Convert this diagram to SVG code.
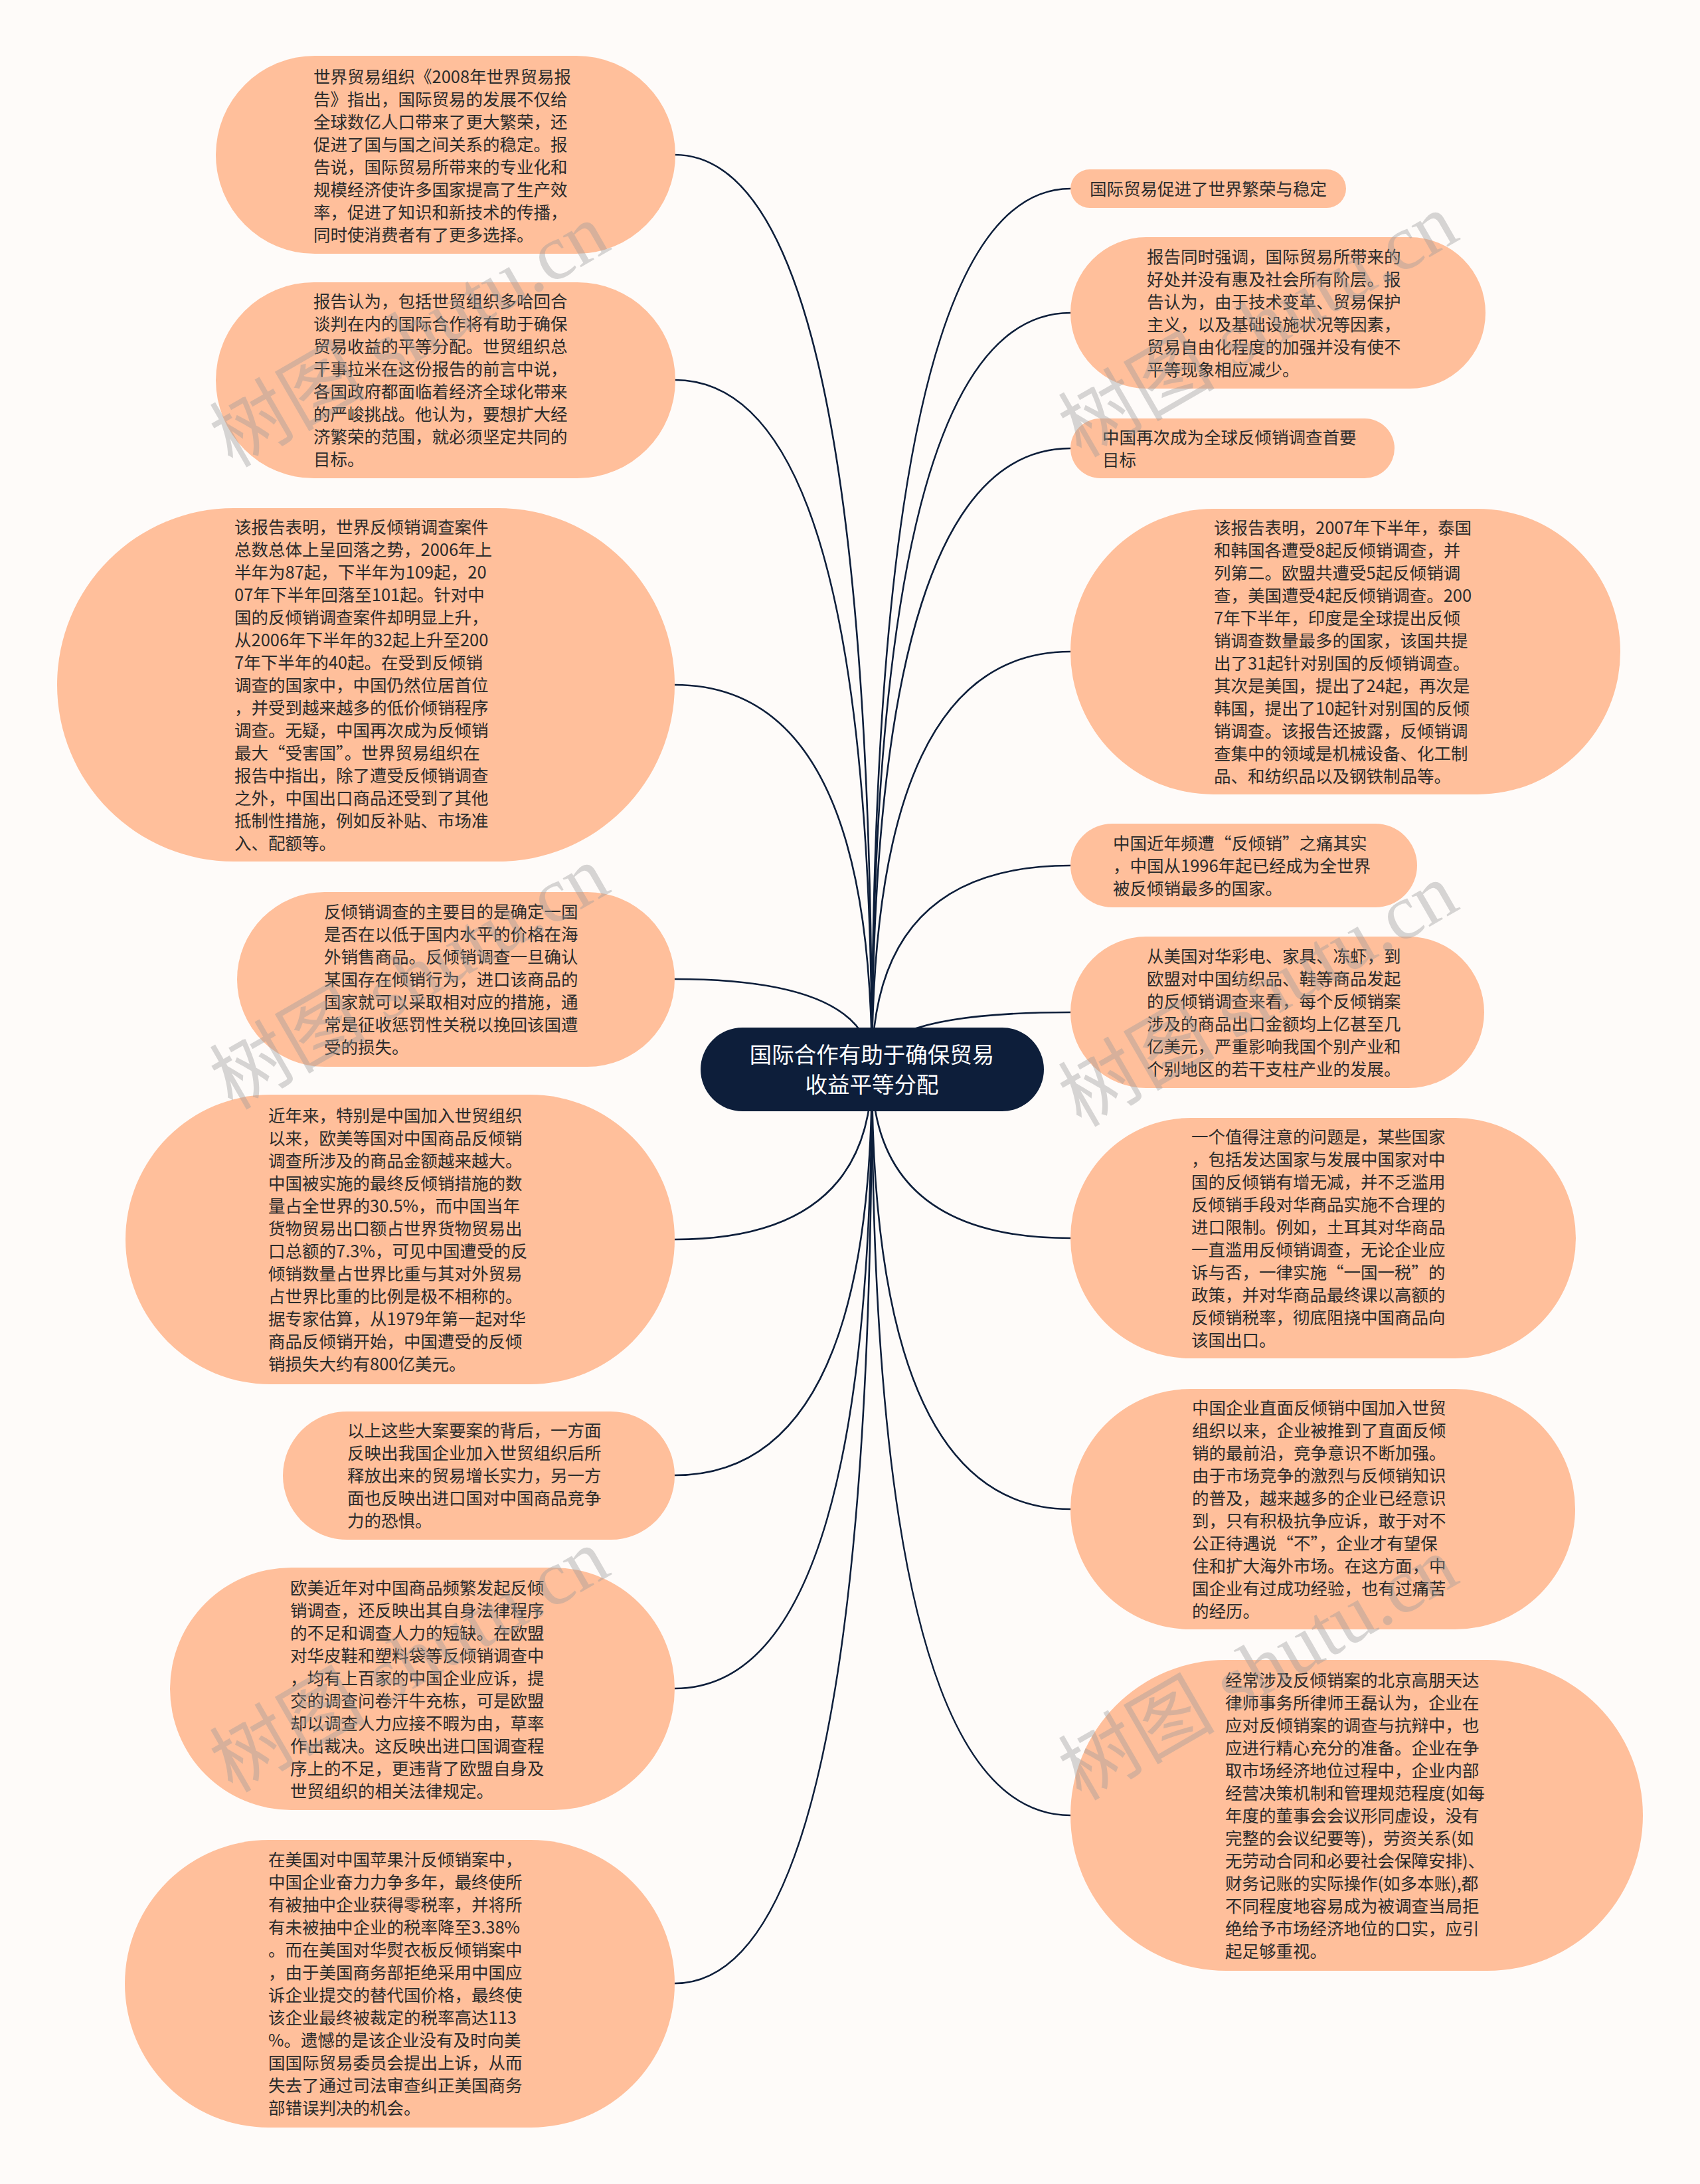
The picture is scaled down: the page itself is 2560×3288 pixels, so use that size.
<svg xmlns="http://www.w3.org/2000/svg" width="2560" height="3288" viewBox="0 0 2560 3288">
<style>
.bg{fill:#FEFBF9}
.node{fill:#FFBF9B}
.root{fill:#0D1E3A}
.t{font-family:"Noto Sans CJK SC","Noto Sans",sans-serif;font-size:25.5px;fill:#2B2B2B}
.rt{font-family:"Noto Sans CJK SC","Noto Sans",sans-serif;font-size:33.5px;fill:#FFFFFF;text-anchor:middle}
.c{fill:none;stroke:#0D1E3A;stroke-width:2.6;stroke-linecap:round}
.wm{font-family:"Liberation Serif","Noto Sans CJK SC",serif;font-size:118px;fill:#9A9A9A;fill-opacity:0.4}
</style>
<rect class="bg" x="0" y="0" width="2560" height="3288"/>
<g id="connectors">
<path class="c" d="M1313 1610 Q1313 233 1016 233"/>
<path class="c" d="M1313 1610 Q1313 572 1016 572"/>
<path class="c" d="M1313 1610 Q1313 1031 1016 1031"/>
<path class="c" d="M1313 1610 Q1313 1474 1016 1474"/>
<path class="c" d="M1313 1610 Q1313 1866 1016 1866"/>
<path class="c" d="M1313 1610 Q1313 2221 1016 2221"/>
<path class="c" d="M1313 1610 Q1313 2542 1016 2542"/>
<path class="c" d="M1313 1610 Q1313 2986 1016 2986"/>
<path class="c" d="M1313 1610 Q1313 284 1612 284"/>
<path class="c" d="M1313 1610 Q1313 471 1612 471"/>
<path class="c" d="M1313 1610 Q1313 675 1612 675"/>
<path class="c" d="M1313 1610 Q1313 981 1612 981"/>
<path class="c" d="M1313 1610 Q1313 1303 1612 1303"/>
<path class="c" d="M1313 1610 Q1313 1524 1612 1524"/>
<path class="c" d="M1313 1610 Q1313 1864 1612 1864"/>
<path class="c" d="M1313 1610 Q1313 2272 1612 2272"/>
<path class="c" d="M1313 1610 Q1313 2733 1612 2733"/>
</g>
<g id="root">
<rect class="root" x="1055" y="1547" width="517" height="126" rx="63"/>
<text class="rt"><tspan x="1313" y="1600">国际合作有助于确保贸易</tspan><tspan x="1313" y="1645">收益平等分配</tspan></text>
</g>
<g id="L1">
<rect class="node" x="325" y="84" width="692" height="298" rx="149"/>
<text class="t"><tspan x="472" y="125">世界贸易组织《2008年世界贸易报</tspan><tspan x="472" y="159">告》指出，国际贸易的发展不仅给</tspan><tspan x="472" y="193">全球数亿人口带来了更大繁荣，还</tspan><tspan x="472" y="227">促进了国与国之间关系的稳定。报</tspan><tspan x="472" y="261">告说，国际贸易所带来的专业化和</tspan><tspan x="472" y="295">规模经济使许多国家提高了生产效</tspan><tspan x="472" y="329">率，促进了知识和新技术的传播，</tspan><tspan x="472" y="363">同时使消费者有了更多选择。</tspan></text>
</g>
<g id="L2">
<rect class="node" x="325" y="425" width="692" height="295" rx="147.5"/>
<text class="t"><tspan x="472" y="463">报告认为，包括世贸组织多哈回合</tspan><tspan x="472" y="497">谈判在内的国际合作将有助于确保</tspan><tspan x="472" y="531">贸易收益的平等分配。世贸组织总</tspan><tspan x="472" y="565">干事拉米在这份报告的前言中说，</tspan><tspan x="472" y="599">各国政府都面临着经济全球化带来</tspan><tspan x="472" y="633">的严峻挑战。他认为，要想扩大经</tspan><tspan x="472" y="667">济繁荣的范围，就必须坚定共同的</tspan><tspan x="472" y="701">目标。</tspan></text>
</g>
<g id="L3">
<rect class="node" x="86" y="765" width="930" height="532" rx="266"/>
<text class="t"><tspan x="353" y="803">该报告表明，世界反倾销调查案件</tspan><tspan x="353" y="837">总数总体上呈回落之势，2006年上</tspan><tspan x="353" y="871">半年为87起，下半年为109起，20</tspan><tspan x="353" y="905">07年下半年回落至101起。针对中</tspan><tspan x="353" y="939">国的反倾销调查案件却明显上升，</tspan><tspan x="353" y="973">从2006年下半年的32起上升至200</tspan><tspan x="353" y="1007">7年下半年的40起。在受到反倾销</tspan><tspan x="353" y="1041">调查的国家中，中国仍然位居首位</tspan><tspan x="353" y="1075">，并受到越来越多的低价倾销程序</tspan><tspan x="353" y="1109">调查。无疑，中国再次成为反倾销</tspan><tspan x="353" y="1143">最大“受害国”。世界贸易组织在</tspan><tspan x="353" y="1177">报告中指出，除了遭受反倾销调查</tspan><tspan x="353" y="1211">之外，中国出口商品还受到了其他</tspan><tspan x="353" y="1245">抵制性措施，例如反补贴、市场准</tspan><tspan x="353" y="1279">入、配额等。</tspan></text>
</g>
<g id="L4">
<rect class="node" x="357" y="1343" width="659" height="263" rx="131.5"/>
<text class="t"><tspan x="488" y="1382">反倾销调查的主要目的是确定一国</tspan><tspan x="488" y="1416">是否在以低于国内水平的价格在海</tspan><tspan x="488" y="1450">外销售商品。反倾销调查一旦确认</tspan><tspan x="488" y="1484">某国存在倾销行为，进口该商品的</tspan><tspan x="488" y="1518">国家就可以采取相对应的措施，通</tspan><tspan x="488" y="1552">常是征收惩罚性关税以挽回该国遭</tspan><tspan x="488" y="1586">受的损失。</tspan></text>
</g>
<g id="L5">
<rect class="node" x="189" y="1648" width="827" height="436" rx="218"/>
<text class="t"><tspan x="404" y="1689">近年来，特别是中国加入世贸组织</tspan><tspan x="404" y="1723">以来，欧美等国对中国商品反倾销</tspan><tspan x="404" y="1757">调查所涉及的商品金额越来越大。</tspan><tspan x="404" y="1791">中国被实施的最终反倾销措施的数</tspan><tspan x="404" y="1825">量占全世界的30.5%，而中国当年</tspan><tspan x="404" y="1859">货物贸易出口额占世界货物贸易出</tspan><tspan x="404" y="1893">口总额的7.3%，可见中国遭受的反</tspan><tspan x="404" y="1927">倾销数量占世界比重与其对外贸易</tspan><tspan x="404" y="1961">占世界比重的比例是极不相称的。</tspan><tspan x="404" y="1995">据专家估算，从1979年第一起对华</tspan><tspan x="404" y="2029">商品反倾销开始，中国遭受的反倾</tspan><tspan x="404" y="2063">销损失大约有800亿美元。</tspan></text>
</g>
<g id="L6">
<rect class="node" x="426" y="2125" width="590" height="193" rx="96.5"/>
<text class="t"><tspan x="523" y="2163">以上这些大案要案的背后，一方面</tspan><tspan x="523" y="2197">反映出我国企业加入世贸组织后所</tspan><tspan x="523" y="2231">释放出来的贸易增长实力，另一方</tspan><tspan x="523" y="2265">面也反映出进口国对中国商品竞争</tspan><tspan x="523" y="2299">力的恐惧。</tspan></text>
</g>
<g id="L7">
<rect class="node" x="256" y="2360" width="760" height="365" rx="182.5"/>
<text class="t"><tspan x="437" y="2400">欧美近年对中国商品频繁发起反倾</tspan><tspan x="437" y="2434">销调查，还反映出其自身法律程序</tspan><tspan x="437" y="2468">的不足和调查人力的短缺。在欧盟</tspan><tspan x="437" y="2502">对华皮鞋和塑料袋等反倾销调查中</tspan><tspan x="437" y="2536">，均有上百家的中国企业应诉，提</tspan><tspan x="437" y="2570">交的调查问卷汗牛充栋，可是欧盟</tspan><tspan x="437" y="2604">却以调查人力应接不暇为由，草率</tspan><tspan x="437" y="2638">作出裁决。这反映出进口国调查程</tspan><tspan x="437" y="2672">序上的不足，更违背了欧盟自身及</tspan><tspan x="437" y="2706">世贸组织的相关法律规定。</tspan></text>
</g>
<g id="L8">
<rect class="node" x="188" y="2770" width="828" height="433" rx="216.5"/>
<text class="t"><tspan x="404" y="2809">在美国对中国苹果汁反倾销案中，</tspan><tspan x="404" y="2843">中国企业奋力力争多年，最终使所</tspan><tspan x="404" y="2877">有被抽中企业获得零税率，并将所</tspan><tspan x="404" y="2911">有未被抽中企业的税率降至3.38%</tspan><tspan x="404" y="2945">。而在美国对华熨衣板反倾销案中</tspan><tspan x="404" y="2979">，由于美国商务部拒绝采用中国应</tspan><tspan x="404" y="3013">诉企业提交的替代国价格，最终使</tspan><tspan x="404" y="3047">该企业最终被裁定的税率高达113</tspan><tspan x="404" y="3081">%。遗憾的是该企业没有及时向美</tspan><tspan x="404" y="3115">国国际贸易委员会提出上诉，从而</tspan><tspan x="404" y="3149">失去了通过司法审查纠正美国商务</tspan><tspan x="404" y="3183">部错误判决的机会。</tspan></text>
</g>
<g id="R1">
<rect class="node" x="1612" y="255" width="415" height="58" rx="29"/>
<text class="t"><tspan x="1641" y="294">国际贸易促进了世界繁荣与稳定</tspan></text>
</g>
<g id="R2">
<rect class="node" x="1612" y="357" width="625" height="228" rx="114"/>
<text class="t"><tspan x="1727" y="396">报告同时强调，国际贸易所带来的</tspan><tspan x="1727" y="430">好处并没有惠及社会所有阶层。报</tspan><tspan x="1727" y="464">告认为，由于技术变革、贸易保护</tspan><tspan x="1727" y="498">主义，以及基础设施状况等因素，</tspan><tspan x="1727" y="532">贸易自由化程度的加强并没有使不</tspan><tspan x="1727" y="566">平等现象相应减少。</tspan></text>
</g>
<g id="R3">
<rect class="node" x="1612" y="630" width="488" height="90" rx="45"/>
<text class="t"><tspan x="1660" y="668">中国再次成为全球反倾销调查首要</tspan><tspan x="1660" y="702">目标</tspan></text>
</g>
<g id="R4">
<rect class="node" x="1612" y="766" width="828" height="430" rx="215"/>
<text class="t"><tspan x="1828" y="804">该报告表明，2007年下半年，泰国</tspan><tspan x="1828" y="838">和韩国各遭受8起反倾销调查，并</tspan><tspan x="1828" y="872">列第二。欧盟共遭受5起反倾销调</tspan><tspan x="1828" y="906">查，美国遭受4起反倾销调查。200</tspan><tspan x="1828" y="940">7年下半年，印度是全球提出反倾</tspan><tspan x="1828" y="974">销调查数量最多的国家，该国共提</tspan><tspan x="1828" y="1008">出了31起针对别国的反倾销调查。</tspan><tspan x="1828" y="1042">其次是美国，提出了24起，再次是</tspan><tspan x="1828" y="1076">韩国，提出了10起针对别国的反倾</tspan><tspan x="1828" y="1110">销调查。该报告还披露，反倾销调</tspan><tspan x="1828" y="1144">查集中的领域是机械设备、化工制</tspan><tspan x="1828" y="1178">品、和纺织品以及钢铁制品等。</tspan></text>
</g>
<g id="R5">
<rect class="node" x="1612" y="1240" width="522" height="126" rx="63"/>
<text class="t"><tspan x="1676" y="1279">中国近年频遭“反倾销”之痛其实</tspan><tspan x="1676" y="1313">，中国从1996年起已经成为全世界</tspan><tspan x="1676" y="1347">被反倾销最多的国家。</tspan></text>
</g>
<g id="R6">
<rect class="node" x="1612" y="1410" width="623" height="228" rx="114"/>
<text class="t"><tspan x="1727" y="1449">从美国对华彩电、家具、冻虾，到</tspan><tspan x="1727" y="1483">欧盟对中国纺织品、鞋等商品发起</tspan><tspan x="1727" y="1517">的反倾销调查来看，每个反倾销案</tspan><tspan x="1727" y="1551">涉及的商品出口金额均上亿甚至几</tspan><tspan x="1727" y="1585">亿美元，严重影响我国个别产业和</tspan><tspan x="1727" y="1619">个别地区的若干支柱产业的发展。</tspan></text>
</g>
<g id="R7">
<rect class="node" x="1612" y="1683" width="761" height="362" rx="181"/>
<text class="t"><tspan x="1794" y="1721">一个值得注意的问题是，某些国家</tspan><tspan x="1794" y="1755">，包括发达国家与发展中国家对中</tspan><tspan x="1794" y="1789">国的反倾销有增无减，并不乏滥用</tspan><tspan x="1794" y="1823">反倾销手段对华商品实施不合理的</tspan><tspan x="1794" y="1857">进口限制。例如，土耳其对华商品</tspan><tspan x="1794" y="1891">一直滥用反倾销调查，无论企业应</tspan><tspan x="1794" y="1925">诉与否，一律实施“一国一税”的</tspan><tspan x="1794" y="1959">政策，并对华商品最终课以高额的</tspan><tspan x="1794" y="1993">反倾销税率，彻底阻挠中国商品向</tspan><tspan x="1794" y="2027">该国出口。</tspan></text>
</g>
<g id="R8">
<rect class="node" x="1612" y="2091" width="760" height="362" rx="181"/>
<text class="t"><tspan x="1795" y="2129">中国企业直面反倾销中国加入世贸</tspan><tspan x="1795" y="2163">组织以来，企业被推到了直面反倾</tspan><tspan x="1795" y="2197">销的最前沿，竞争意识不断加强。</tspan><tspan x="1795" y="2231">由于市场竞争的激烈与反倾销知识</tspan><tspan x="1795" y="2265">的普及，越来越多的企业已经意识</tspan><tspan x="1795" y="2299">到，只有积极抗争应诉，敢于对不</tspan><tspan x="1795" y="2333">公正待遇说“不”，企业才有望保</tspan><tspan x="1795" y="2367">住和扩大海外市场。在这方面，中</tspan><tspan x="1795" y="2401">国企业有过成功经验，也有过痛苦</tspan><tspan x="1795" y="2435">的经历。</tspan></text>
</g>
<g id="R9">
<rect class="node" x="1612" y="2499" width="862" height="468" rx="234"/>
<text class="t"><tspan x="1845" y="2539">经常涉及反倾销案的北京高朋天达</tspan><tspan x="1845" y="2573">律师事务所律师王磊认为，企业在</tspan><tspan x="1845" y="2607">应对反倾销案的调查与抗辩中，也</tspan><tspan x="1845" y="2641">应进行精心充分的准备。企业在争</tspan><tspan x="1845" y="2675">取市场经济地位过程中，企业内部</tspan><tspan x="1845" y="2709">经营决策机制和管理规范程度(如每</tspan><tspan x="1845" y="2743">年度的董事会会议形同虚设，没有</tspan><tspan x="1845" y="2777">完整的会议纪要等)，劳资关系(如</tspan><tspan x="1845" y="2811">无劳动合同和必要社会保障安排)、</tspan><tspan x="1845" y="2845">财务记账的实际操作(如多本账),都</tspan><tspan x="1845" y="2879">不同程度地容易成为被调查当局拒</tspan><tspan x="1845" y="2913">绝给予市场经济地位的口实，应引</tspan><tspan x="1845" y="2947">起足够重视。</tspan></text>
</g>
<g id="watermarks">
<text class="wm" transform="translate(350 705) rotate(-30)">树图 shutu.cn</text>
<text class="wm" transform="translate(1628 690) rotate(-30)">树图 shutu.cn</text>
<text class="wm" transform="translate(350 1672) rotate(-30)">树图 shutu.cn</text>
<text class="wm" transform="translate(1628 1698) rotate(-30)">树图 shutu.cn</text>
<text class="wm" transform="translate(350 2700) rotate(-30)">树图 shutu.cn</text>
<text class="wm" transform="translate(1628 2712) rotate(-30)">树图 shutu.cn</text>
</g>
</svg>
